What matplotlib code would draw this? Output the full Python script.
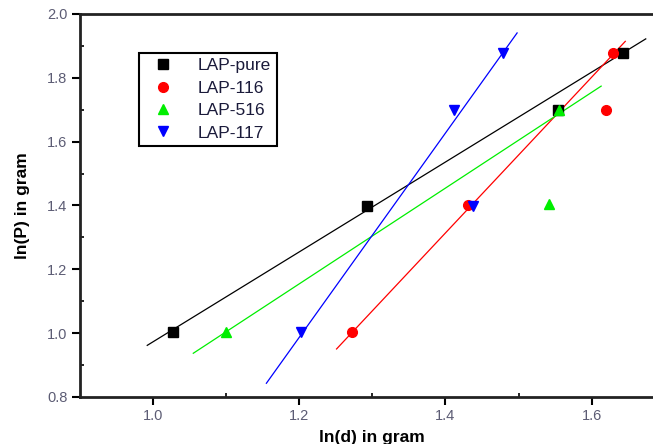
import matplotlib.pyplot as plt
import numpy as np

plt.rcParams["font.family"] = ["Liberation Sans", "DejaVu Sans"]

series_names = ["LAP-pure", "LAP-116", "LAP-516", "LAP-117"]
series_colors = ["black", "red", "#00ee00", "blue"]
series_markers = ["s", "o", "^", "v"]

# ln(d) / ln(P) for each sample
ln_d = [
    [1.027, 1.292, 1.554, 1.643],
    [1.272, 1.431, 1.620, 1.629],
    [1.100, 1.541, 1.556],
    [1.203, 1.412, 1.438, 1.479],
]
ln_p = [
    [1.003, 1.398, 1.700, 1.878],
    [1.003, 1.401, 1.699, 1.878],
    [1.003, 1.404, 1.699],
    [1.003, 1.700, 1.398, 1.878],
]

# linear fits: slope, intercept and the x span they are drawn over
fit_slope = [1.408, 2.44, 1.50, 3.20]
fit_intercept = [-0.435, -2.102, -0.6455, -2.853]
fit_start = [0.992, 1.251, 1.055, 1.155]
fit_end = [1.674, 1.646, 1.613, 1.498]

fig = plt.figure(figsize=(6.53, 4.44), dpi=100)
ax = fig.add_axes([0.1225, 0.1059, 0.8955, 0.8626])

for i, name in enumerate(series_names):
    xf = np.array([fit_start[i], fit_end[i]])
    ax.plot(xf, fit_slope[i] * xf + fit_intercept[i], color=series_colors[i], lw=0.9)

for i, name in enumerate(series_names):
    ax.plot(ln_d[i], ln_p[i], linestyle="none", marker=series_markers[i],
            color=series_colors[i], ms=7, label=name)

ax.set_xlim(0.9, 1.7)
ax.set_ylim(0.8, 2.0)
ax.set_xticks([1.0, 1.2, 1.4, 1.6])
ax.set_yticks([0.8, 1.0, 1.2, 1.4, 1.6, 1.8, 2.0])
ax.set_xticks([1.1, 1.3, 1.5], minor=True)
ax.set_yticks([0.9, 1.1, 1.3, 1.5, 1.7, 1.9], minor=True)

tick_color = "#5c5c74"
ax.tick_params(axis="both", which="major", direction="out", length=6, width=1.5,
               labelsize=10.5, labelcolor=tick_color, pad=3)
ax.tick_params(axis="both", which="minor", direction="in", length=3, width=1.2)

for side in ["left", "bottom", "top", "right"]:
    ax.spines[side].set_linewidth(2)
    ax.spines[side].set_color("#222222")

ax.set_xlabel("ln(d) in gram", fontsize=12.5, fontweight="bold", labelpad=5)
ax.set_ylabel("ln(P) in gram", fontsize=12.5, fontweight="bold", labelpad=12)

leg = ax.legend(loc="upper left", bbox_to_anchor=(0.213, 0.881),
                bbox_transform=fig.transFigure, fontsize=12.5, fancybox=False,
                framealpha=1, edgecolor="black", borderpad=0.3, borderaxespad=0,
                labelspacing=0.42, handletextpad=0.9, handlelength=2.2)
leg.get_frame().set_linewidth(1.5)
for t in leg.get_texts():
    t.set_color("#1a1a3a")

fig.savefig("out.png", dpi=100)
